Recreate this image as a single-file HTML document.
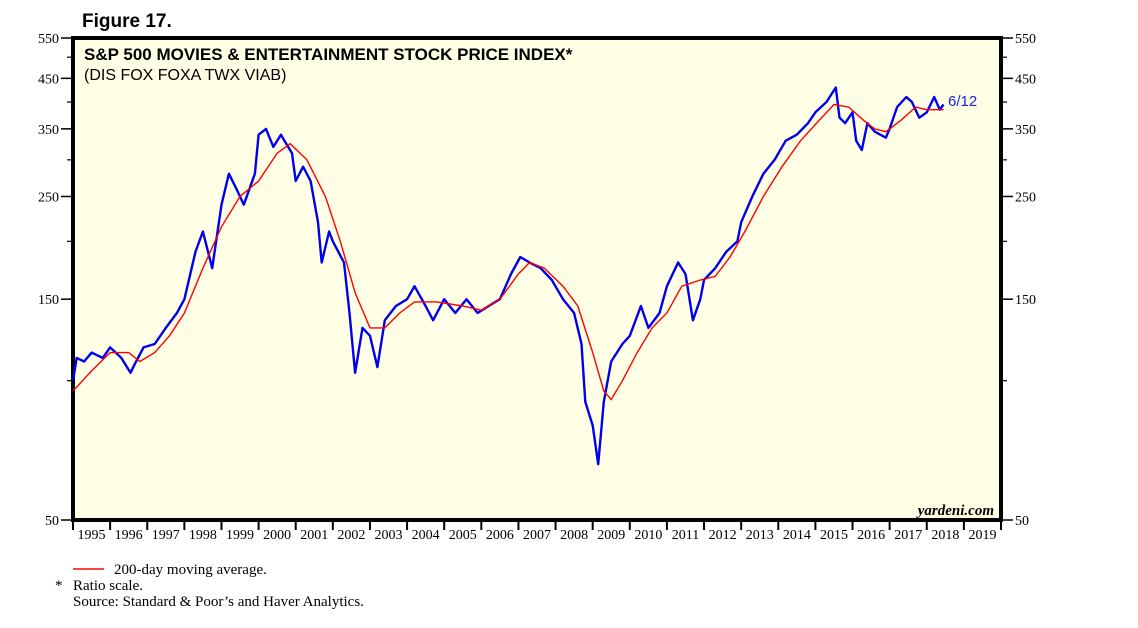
<!DOCTYPE html>
<html><head><meta charset="utf-8"><style>
body{margin:0;background:#fff;width:1138px;height:628px;overflow:hidden;font-family:"Liberation Serif",serif;}
svg{position:absolute;left:0;top:0}
</style></head><body>
<svg width="1138" height="628">
<text x="82" y="27" font-family="Liberation Sans" font-weight="bold" font-size="19">Figure 17.</text>
<rect x="73" y="38" width="928" height="482" fill="#ffffe6" stroke="#000" stroke-width="4"/>
<text x="84" y="60" font-family="Liberation Sans" font-weight="bold" font-size="17">S&amp;P 500 MOVIES &amp; ENTERTAINMENT STOCK PRICE INDEX*</text>
<text x="84" y="80" font-family="Liberation Sans" font-size="16">(DIS FOX FOXA TWX VIAB)</text>
<text x="994" y="515" text-anchor="end" font-style="italic" font-weight="bold" font-size="15">yardeni.com</text>
<g id="axes"></g>
<g id="series"></g>
<text x="948" y="106" fill="#2020e0" font-family="Liberation Sans" font-size="15">6/12</text>
<line x1="73" y1="569" x2="104" y2="569" stroke="red" stroke-width="1.5"/>
<text x="114" y="574" font-size="15">200-day moving average.</text>
<text x="55" y="590" font-size="15">*</text>
<text x="73" y="590" font-size="15">Ratio scale.</text>
<text x="73" y="606" font-size="15">Source: Standard &amp; Poor’s and Haver Analytics.</text>
</svg>
<script>
const yTicks=[550,450,350,250,150,50];
const yMinor=[500,400,300,200,100];
const years=[1995,1996,1997,1998,1999,2000,2001,2002,2003,2004,2005,2006,2007,2008,2009,2010,2011,2012,2013,2014,2015,2016,2017,2018,2019];
const priceT=[1995.0,1995.1,1995.3,1995.5,1995.8,1996.0,1996.3,1996.55,1996.65,1996.9,1997.2,1997.5,1997.8,1998.0,1998.3,1998.5,1998.75,1999.0,1999.2,1999.4,1999.6,1999.9,2000.0,2000.2,2000.4,2000.6,2000.9,2001.0,2001.2,2001.4,2001.6,2001.7,2001.9,2002.0,2002.3,2002.45,2002.6,2002.8,2003.0,2003.2,2003.4,2003.7,2004.0,2004.2,2004.5,2004.7,2005.0,2005.3,2005.6,2005.9,2006.2,2006.5,2006.8,2007.05,2007.3,2007.6,2007.9,2008.2,2008.5,2008.7,2008.8,2009.0,2009.15,2009.3,2009.5,2009.8,2010.0,2010.3,2010.5,2010.8,2011.0,2011.3,2011.5,2011.7,2011.9,2012.0,2012.3,2012.6,2012.9,2013.0,2013.3,2013.6,2013.9,2014.2,2014.5,2014.8,2015.0,2015.3,2015.55,2015.65,2015.8,2016.0,2016.1,2016.25,2016.4,2016.6,2016.9,2017.0,2017.2,2017.45,2017.6,2017.8,2018.0,2018.2,2018.35,2018.45];
const priceV=[100,112,110,115,112,118,112,104,108,118,120,130,140,150,190,210,175,240,280,260,240,280,340,350,320,340,310,270,290,270,220,180,210,200,180,140,104,130,125,107,135,145,150,160,145,135,150,140,150,140,145,150,170,185,180,175,165,150,140,120,90,80,66,90,110,120,125,145,130,140,160,180,170,135,150,165,175,190,200,220,250,280,300,330,340,360,380,400,430,370,360,380,330,315,360,345,335,350,390,410,400,370,380,410,385,395];
const maT=[1995.0,1995.5,1996.0,1996.5,1996.8,1997.2,1997.6,1998.0,1998.5,1999.0,1999.5,2000.0,2000.5,2000.85,2001.3,2001.8,2002.2,2002.6,2003.0,2003.4,2003.8,2004.2,2004.8,2005.5,2006.0,2006.5,2007.0,2007.3,2007.7,2008.2,2008.6,2009.0,2009.3,2009.5,2009.8,2010.2,2010.6,2011.0,2011.4,2011.9,2012.3,2012.7,2013.1,2013.6,2014.1,2014.6,2015.1,2015.5,2015.9,2016.3,2016.6,2016.9,2017.3,2017.7,2018.0,2018.45];
const maV=[95,105,115,115,110,115,125,140,175,215,250,270,310,325,300,250,200,155,130,130,140,148,148,145,142,150,170,180,175,160,145,115,95,91,100,115,130,140,160,165,168,185,210,250,290,330,365,395,390,365,350,345,365,390,385,385];
const X0=73,X1=1001,Y0=38,Y1=520,T0=1995,T1=2020,VMAX=550,VMIN=50;
const xs=t=>X0+(t-T0)/(T1-T0)*(X1-X0);
const ys=v=>Y0+Math.log(VMAX/v)/Math.log(VMAX/VMIN)*(Y1-Y0);
const NS='http://www.w3.org/2000/svg';
const ax=document.getElementById('axes'),se=document.getElementById('series');
function mk(tag,at,parent){const e=document.createElementNS(NS,tag);for(const k in at)e.setAttribute(k,at[k]);parent.appendChild(e);return e;}
yTicks.forEach(v=>{const y=ys(v);
 let l=mk('line',{x1:X0-12,x2:X0,y1:y,y2:y,stroke:'#000','stroke-width':1.5},ax);
 
 
 let r=mk('line',{x1:X1,x2:X1+12,y1:y,y2:y,stroke:'#000','stroke-width':1.5},ax);
 
 
 let t=mk('text',{x:X0-14,y:y+5,'text-anchor':'end','font-size':14},ax);t.textContent=v;
 
 
 let t2=mk('text',{x:X1+14,y:y+5,'font-size':14},ax);t2.textContent=v;
 
 
});
yMinor.forEach(v=>{const y=ys(v);
 let l=mk('line',{x1:X0-6,x2:X0,y1:y,y2:y,stroke:'#000','stroke-width':1.2},ax);
 
 
 let r=mk('line',{x1:X1,x2:X1+6,y1:y,y2:y,stroke:'#000','stroke-width':1.2},ax);
 
 
});
years.forEach(yr=>{
 let l=mk('line',{x1:xs(yr),x2:xs(yr),y1:Y1,y2:Y1+10,stroke:'#000','stroke-width':2},ax);
 
 
 let t=mk('text',{x:xs(yr+0.5),y:Y1+19,'text-anchor':'middle','font-size':14},ax);t.textContent=yr;
 
 
});
let l=mk('line',{x1:xs(2020),x2:xs(2020),y1:Y1,y2:Y1+10,stroke:'#000','stroke-width':2},ax);


function path(T,V){return T.map((t,i)=>(i?'L':'M')+xs(t).toFixed(1)+','+ys(V[i]).toFixed(1)).join('');}
let p=mk('path',{d:path(priceT,priceV),fill:'none',stroke:'#0000ee','stroke-width':2.4,'stroke-linejoin':'round'},se);


let m=mk('path',{d:path(maT,maV),fill:'none',stroke:'#ff0000','stroke-width':1.4},se);


</script>
</body></html>
